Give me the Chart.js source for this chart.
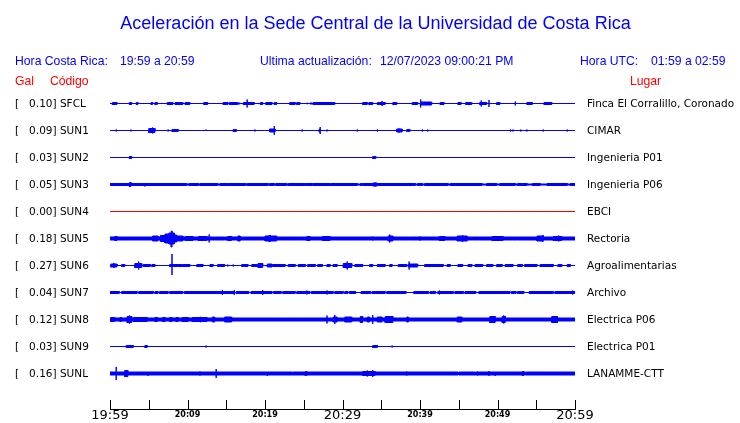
<!DOCTYPE html>
<html>
<head>
<meta charset="utf-8">
<script src="https://cdn.jsdelivr.net/npm/chart.js@4.4.0/dist/chart.umd.min.js"></script>
<style>
body { margin: 0; background: #fff; }
#wrap { position: relative; width: 740px; height: 423px; overflow: hidden; }
#wrap canvas { position: absolute; left: 0; top: 0; }
.t { position: absolute; white-space: pre; line-height: 1; }
</style>
</head>
<body>
<div id="wrap"><canvas id="chart" width="740" height="423"></canvas></div>
<script>
// Stations, peak values (gal) and places
const stations = ['SFCL', 'SUN1', 'SUN2', 'SUN3', 'SUN4', 'SUN5', 'SUN6', 'SUN7', 'SUN8', 'SUN9', 'SUNL'];
const galValues = [0.10, 0.09, 0.03, 0.05, 0.00, 0.18, 0.27, 0.04, 0.12, 0.03, 0.16];
const places = ['Finca El Corralillo, Coronado', 'CIMAR', 'Ingenieria P01', 'Ingenieria P06', 'EBCI',
    'Rectoria', 'Agroalimentarias', 'Archivo', 'Electrica P06', 'Electrica P01', 'LANAMME-CTT'];
const timeLabels = ['19:59', '20:09', '20:19', '20:29', '20:39', '20:49', '20:59'];

// background noise level of each trace (counts)
const baseAmp = [0, 0, 0, 1, 0, 1.5, 0, 1, 1.5, 0, 1.5];

// bursts: [start min, end min, amplitude up, amplitude down (optional)]
const sfcl = [[0.3,0.9,1.5],[1.3,1.3,1],[1.8,1.8,1],[2.5,2.8,1.5],[3.4,3.6,1.5],[3.9,3.9,1],[4.9,4.9,1],[5.3,5.5,1.5],[5.8,6.1,1.5],[6.3,6.3,1],[7.4,8.1,1.5],[8.4,9.4,1.5],[9.7,10.3,1.5],[11.2,11.2,1],[12.1,12.6,1.5],[13.3,13.3,1],[14.6,15.2,1.5],[15.4,16.4,1.5],[16.5,16.8,1],[17.2,17.7,1.5],[17.7,17.7,4.5],[17.7,18.6,1.5],[19.0,19.0,1],[19.4,19.7,1.5],[20.1,20.9,1.5],[21.2,21.5,1.5],[21.9,21.9,1],[22.5,22.5,1],[23.2,23.9,1.5],[24.1,24.5,1.5],[25.4,25.5,1],[25.8,26.1,1],[26.2,29.0,1.5],[29.3,29.3,1],[30.5,30.5,1],[31.6,31.6,1],[32.6,33.2,1.5],[33.4,33.9,1.5],[34.5,35.1,1.5],[35.1,35.1,3],[35.1,35.5,1.5],[36.1,36.1,1],[36.5,37.0,1.5],[38.7,38.7,1],[39.0,39.7,1.5],[40.0,40.1,2],[40.1,40.1,4.5],[40.1,41.5,2],[41.7,41.7,1],[42.6,43.1,1.5],[43.5,43.5,1],[44.9,45.3,1.5],[45.7,45.7,1],[45.9,46.6,1.5],[46.7,46.7,1],[47.7,47.9,1.5],[47.9,47.9,3.5],[47.9,48.6,1.5],[48.9,48.9,4],[49.9,50.3,1.5],[51.1,51.1,1],[52.3,52.3,2.5],[53.8,54.5,1.5],[55.1,55.1,1],[56.0,57.0,1.5],[57.8,57.8,1],[59.7,59.7,1]];
const sun1 = [[0.8,0.8,1.5],[2.6,2.8,1],[5.0,5.5,2.5],[5.5,5.5,3.5],[5.5,5.8,2.5],[6.3,6.3,1],[7.5,7.5,1.5],[8.0,8.8,1.5],[9.0,9.0,1],[11.2,11.2,1],[12.4,12.4,1.5,0],[15.9,16.3,1.5],[16.8,16.8,1],[18.7,18.7,1.5],[20.6,21.2,2],[21.2,21.2,5],[21.2,21.3,2],[23.0,23.0,1],[24.8,24.8,1.5],[26.3,26.3,1],[27.0,27.1,2],[27.1,27.1,4],[27.1,27.2,2],[28.0,28.0,1.5],[31.9,31.9,1.5],[34.5,34.5,1.5],[37.0,37.3,2],[37.3,37.3,2.5],[37.3,37.7,2],[38.3,38.7,1.5],[39.7,39.7,1],[40.3,40.3,1.5],[40.8,40.8,1],[41.0,41.0,1.5],[43.4,43.4,1],[46.3,46.3,1],[50.8,50.8,1],[51.7,51.7,1.5],[52.0,52.0,1.5],[53.0,53.0,1.5],[53.8,53.8,1.5],[55.9,55.9,1.5],[59.0,59.0,1.5]];
const sun2 = [[2.5,2.8,1.5],[12.8,12.8,0,1],[33.9,34.3,1.5]];
const sun3 = [[2.5,2.7,2.5],[4.5,4.5,1,2.5],[9.9,10.2,0.5],[11.4,11.6,0.5],[13.9,14.2,0.5],[15.1,15.2,0.5],[17.5,17.7,0.5],[20.4,20.6,0.5],[21.2,21.4,0.5],[22.8,23.0,0.5],[25.2,25.3,0.5],[26.1,26.2,0.5],[28.4,28.5,0.5],[31.9,32.3,0.5],[32.6,32.7,0.5],[33.9,34.2,2],[34.2,34.2,2.5],[34.2,34.5,2],[39.4,39.7,0.5],[40.3,40.6,0.5],[43.6,43.9,0.5],[48.0,48.6,0.5],[49.9,50.3,0.5],[52.3,52.6,0.5],[53.8,54.5,0.5],[55.5,56.4,0.5],[59.0,59.4,0.5]];
const sun4 = [];
const sun5 = [[0.6,0.9,2.5],[1.0,1.9,2],[3.2,3.5,2],[4.5,4.9,2],[5.5,6.2,3],[6.5,7.1,3.5],[7.1,7.6,5],[7.6,7.9,6],[7.9,8.0,8,9],[8.0,8.3,6],[8.3,8.6,4],[8.6,9.4,3],[9.7,10.7,2.5],[11.4,12.5,2.5],[12.8,12.8,4.5],[13.2,13.5,2],[13.9,14.8,2],[15.2,15.7,2.5],[16.5,16.8,3],[17.7,19.0,2],[19.1,19.7,2],[20.0,20.5,3],[20.5,20.7,3.5],[20.7,21.5,3],[21.7,22.2,2],[22.6,23.5,2],[24.3,24.8,2],[25.4,25.8,2.5],[27.4,28.4,2.5],[29.0,29.3,2],[29.7,31.0,2],[31.6,32.0,2],[32.5,32.9,2],[33.9,33.9,2.5],[35.9,36.1,3],[36.1,36.1,4.5],[36.1,36.5,3],[37.8,38.5,2],[40.0,40.0,2.5],[40.9,41.5,2],[42.5,43.2,2.5],[44.8,45.5,3],[45.5,45.5,4],[45.5,46.1,3],[46.5,46.8,2],[47.4,47.7,2],[49.3,50.7,2.5],[51.0,51.9,2],[52.6,53.2,2],[55.1,55.8,3],[55.8,55.9,3.5],[57.2,57.9,2.5],[57.9,57.9,3.5],[57.9,58.3,2.5],[58.5,59.0,2]];
const sun6 = [[0.1,0.5,2],[0.5,0.5,3],[0.5,0.9,2],[1.5,1.9,1.5],[2.3,2.3,1],[3.2,3.7,2.5],[3.7,3.7,4.5],[3.7,4.1,2.5],[4.3,5.2,1.5],[5.4,5.8,1.5],[6.7,6.7,1],[7.4,7.4,1],[7.7,8.0,1.5],[8.0,8.0,12,10],[8.0,9.3,1.5],[9.4,10.3,1.5],[11.2,12.0,1.5],[12.9,13.3,1.5],[13.9,14.8,1.5],[15.2,15.2,1.5],[15.9,15.9,1.5],[17.0,17.8,1.5],[18.3,19.0,1.5],[19.1,19.4,2.5],[19.4,19.4,3],[19.4,19.7,2.5],[20.3,20.9,2],[21.0,22.6,1.5],[23.0,23.9,1.5],[24.3,25.2,1.5],[25.5,26.5,1.5],[26.8,27.4,1.5],[28.0,28.4,1.5],[28.8,29.3,1.5],[30.1,30.6,2.5],[30.6,30.6,4.5],[30.6,31.2,2.5],[31.6,32.6,1.5],[33.5,33.9,1.5],[34.5,35.5,1.5],[36.1,36.4,1.5],[37.2,38.3,1.5],[38.5,38.6,2],[38.6,38.6,4.5],[38.6,39.7,2],[40.6,43.0,1.5],[43.5,43.9,1.5],[44.9,45.5,1.5],[46.2,46.7,1.5],[47.1,48.1,1.5],[48.6,49.4,1.5],[49.9,50.6,1.5],[51.0,52.0,1.5],[52.6,53.2,1.5],[53.5,55.1,1.5],[55.5,57.2,1.5],[57.8,58.3,1.5],[59.0,59.4,1.5]];
const sun7 = [[1.2,1.5,0],[3.5,3.7,0],[5.6,5.8,0],[6.2,6.4,0],[7.5,7.7,0],[9.4,9.6,0],[14.5,14.5,3],[16.0,16.0,3],[16.1,16.3,0],[17.9,18.2,0],[19.7,19.7,3],[20.9,21.1,0],[22.1,22.3,0],[23.9,24.1,0],[25.4,25.4,2.5],[25.8,26.0,0],[28.0,28.0,2.5],[28.8,29.0,0],[30.1,30.3,0],[30.7,30.9,0],[31.7,32.4,0],[33.6,33.8,0],[35.5,35.7,0],[38.2,39.2,0],[41.1,41.3,0],[42.0,42.3,0],[42.5,42.5,2.5],[44.3,44.5,0],[45.6,45.8,0],[47.2,47.6,0],[51.6,51.8,0],[52.4,52.6,0],[53.4,54.1,0],[57.2,57.4,0],[59.7,59.7,2.5]];
const sun8 = [[0.1,0.6,2.5],[1.3,1.5,2.5],[2.2,2.5,3.5],[2.5,2.5,4.5],[2.5,2.8,3.5],[3.0,4.8,2.5],[5.8,6.1,2.5],[6.8,7.1,2.5],[7.7,8.0,2.5],[8.5,8.8,2.5],[9.3,10.1,2.5],[10.6,11.6,2.5],[11.6,11.7,3],[11.7,12.5,2.5],[13.2,13.5,3],[14.8,15.7,3],[22.3,22.3,2],[24.4,24.4,2],[28.0,28.0,4.5],[28.8,29.0,3],[29.0,29.0,5],[29.0,29.3,3],[30.3,31.2,3],[32.3,32.6,3.5],[33.2,33.5,3],[33.9,33.9,5],[34.5,35.1,3],[35.5,36.5,3.5],[38.3,38.5,3],[44.8,45.4,3],[49.0,49.7,3.5],[50.6,50.8,3.5],[50.8,50.8,4.5],[50.8,51.0,3.5],[57.0,57.7,3.5],[57.7,57.7,4],[57.7,57.8,3.5]];
const sun9 = [[2.1,3.0,1.5],[3.7,3.7,1],[4.5,4.8,1.5],[12.4,12.4,1.5],[13.2,13.2,1],[33.9,34.5,1.5],[34.7,34.7,1],[36.4,36.4,1.5],[42.1,42.1,1,0]];
const sunl = [[0.8,0.8,7],[1.9,2.0,3.5],[2.0,2.0,4],[2.0,2.3,3.5],[4.9,4.9,1.5,3],[11.6,11.6,2.5],[12.0,12.0,2],[13.7,13.7,5],[20.3,20.3,1.5,3],[23.5,23.6,0.5],[24.8,24.8,2],[25.2,25.4,2.5],[32.6,33.2,2.5],[33.2,33.2,3.5],[33.2,33.9,2.5],[33.9,33.9,4],[33.9,34.2,2.5],[38.3,38.3,2.5],[42.2,42.2,2],[44.9,45.0,0.5],[47.1,47.2,0.5],[47.4,47.4,2.5],[48.9,48.9,3],[49.7,49.7,1.5,3],[52.0,52.0,2],[53.2,53.4,2.5],[53.5,53.6,0.5],[56.4,56.4,2],[57.4,57.4,2]];
const bursts = [sfcl, sun1, sun2, sun3, sun4, sun5, sun6, sun7, sun8, sun9, sunl];

const SPACING = 27; // counts between traces
const STROKE_INSET = 0.5; // half the 1px outline, so bursts keep their read height

// Build upper and lower envelope for each trace
const datasets = [];
stations.forEach(function (st, i) {
    const off = i * SPACING;
    const b = baseAmp[i];
    const color = st === 'SUN4' ? '#ff0000' : '#0000ff';
    const upper = [{ x: 0, y: off - b }];
    const lower = [{ x: 0, y: off + b }];
    bursts[i].forEach(function (s) {
        let up = s[2];
        let down = s.length > 3 ? s[3] : s[2];
        if (up > b) up = Math.max(b, up - STROKE_INSET);
        if (down > b) down = Math.max(b, down - STROKE_INSET);
        upper.push({ x: s[0], y: off - b }, { x: s[0], y: off - up }, { x: s[1], y: off - up }, { x: s[1], y: off - b });
        lower.push({ x: s[0], y: off + b }, { x: s[0], y: off + down }, { x: s[1], y: off + down }, { x: s[1], y: off + b });
    });
    upper.push({ x: 60, y: off - b });
    lower.push({ x: 60, y: off + b });
    datasets.push({ label: st, data: upper, borderColor: color, backgroundColor: color, borderWidth: 1, pointRadius: 0, fill: '+1' });
    datasets.push({ label: st + ' low', data: lower, borderColor: color, backgroundColor: color, borderWidth: 1, pointRadius: 0, fill: false });
});

// Tick marks pointing up from the time axis
const tickMarks = {
    id: 'tickMarks',
    afterDraw(chart) {
        const xs = chart.scales.x;
        const ctx = chart.ctx;
        const bottom = chart.chartArea.bottom;
        ctx.save();
        ctx.strokeStyle = '#000';
        ctx.lineWidth = 1;
        xs.ticks.forEach(function (t) {
            const px = Math.round(xs.getPixelForValue(t.value)) + 0.5;
            ctx.beginPath();
            ctx.moveTo(px, bottom - 9);
            ctx.lineTo(px, bottom);
            ctx.stroke();
        });
        ctx.restore();
    }
};

new Chart(document.getElementById('chart'), {
    type: 'line',
    data: { datasets: datasets },
    plugins: [tickMarks],
    options: {
        responsive: false,
        animation: false,
        layout: { padding: { left: 110, right: 165, top: 76, bottom: 1 } },
        plugins: { legend: { display: false }, tooltip: { enabled: false } },
        elements: { line: { tension: 0, borderJoinStyle: 'bevel' } },
        scales: {
            x: {
                type: 'linear',
                min: 0,
                max: 60,
                grid: { display: true, drawOnChartArea: false, drawTicks: false },
                border: { display: true, color: '#000', width: 1 },
                ticks: {
                    stepSize: 5,
                    autoSkip: false,
                    maxRotation: 0,
                    padding: 0,
                    color: '#000',
                    font: function (ctx) {
                        const v = ctx.tick ? ctx.tick.value : 0;
                        if (v % 30 === 0) return { family: 'DejaVu Sans', size: 13, lineHeight: 1 };
                        return { family: 'DejaVu Sans', size: 8, weight: 'bold', lineHeight: '12px' };
                    },
                    callback: function (v) { return v % 10 === 0 ? timeLabels[v / 10] : ''; }
                }
            },
            y: { display: false, reverse: true, min: -27.5, max: 305.5 }
        }
    }
});

// Text around the chart
const wrap = document.getElementById('wrap');
function addText(str, x, base, size, family, color, align) {
    const d = document.createElement('div');
    d.className = 't';
    d.textContent = str;
    d.style.fontFamily = family;
    d.style.fontSize = size + 'px';
    d.style.color = color;
    d.style.top = (base - 0.846 * size) + 'px';
    d.style.left = x + 'px';
    if (align === 'center') d.style.transform = 'translateX(-50%)';
    wrap.appendChild(d);
}
const SANS = '"Liberation Sans", Arial, sans-serif';
const DEJAVU = '"DejaVu Sans", sans-serif';
addText('Aceleración en la Sede Central de la Universidad de Costa Rica', 375.5, 29.5, 18, SANS, '#0000ff', 'center');
addText('Hora Costa Rica:', 15, 65.5, 12.2, SANS, '#0000ff');
addText('19:59 a 20:59', 120, 65.5, 12.2, SANS, '#0000ff');
addText('Ultima actualización:', 260, 65.5, 12.2, SANS, '#0000ff');
addText('12/07/2023 09:00:21 PM', 380, 65.5, 12.2, SANS, '#0000ff');
addText('Hora UTC:', 580, 65.5, 12.2, SANS, '#0000ff');
addText('01:59 a 02:59', 651, 65.5, 12.2, SANS, '#0000ff');
addText('Gal', 15, 85.5, 12.2, SANS, '#ff0000');
addText('Código', 50, 85.5, 12.2, SANS, '#ff0000');
addText('Lugar', 630, 85.5, 12.2, SANS, '#ff0000');
stations.forEach(function (st, i) {
    const base = 103 + i * SPACING + 3.5;
    addText('[   ' + galValues[i].toFixed(2) + '] ' + st, 15, base, 10.5, DEJAVU, '#000');
    addText(places[i], 587, base, 10.5, DEJAVU, '#000');
});
</script>
</body>
</html>
